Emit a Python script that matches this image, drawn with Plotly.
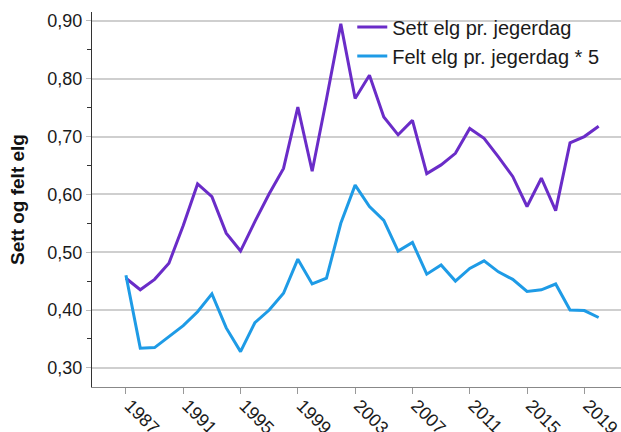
import plotly.graph_objects as go

years = list(range(1987, 2021))
sett = [0.455, 0.435, 0.453, 0.481, 0.546, 0.618, 0.596, 0.533, 0.502, 0.553, 0.601,
        0.645, 0.751, 0.640, 0.765, 0.895, 0.766, 0.806, 0.734, 0.703, 0.728, 0.636,
        0.651, 0.671, 0.714, 0.697, 0.665, 0.631, 0.579, 0.628, 0.572, 0.689, 0.700, 0.718]
felt5 = [0.460, 0.334, 0.335, 0.354, 0.373, 0.397, 0.428, 0.369, 0.328, 0.378, 0.400,
         0.429, 0.488, 0.445, 0.455, 0.550, 0.616, 0.579, 0.555, 0.502, 0.517, 0.462,
         0.478, 0.450, 0.472, 0.485, 0.466, 0.453, 0.432, 0.435, 0.445, 0.400, 0.399, 0.387]
tick_years = [1987, 1991, 1995, 1999, 2003, 2007, 2011, 2015, 2019]
y_ticks = [0.30, 0.40, 0.50, 0.60, 0.70, 0.80, 0.90]

fig = go.Figure()
fig.add_trace(go.Scatter(x=years, y=sett, mode="lines", name="Sett elg pr. jegerdag",
                         line=dict(color="#6a2cc8", width=3)))
fig.add_trace(go.Scatter(x=years, y=felt5, mode="lines", name="Felt elg pr. jegerdag * 5",
                         line=dict(color="#1e9be6", width=3)))

fig.update_layout(
    width=621, height=432,
    margin=dict(l=92, r=0, t=12, b=45, autoexpand=False),
    paper_bgcolor="white", plot_bgcolor="white",
    separators=", ",
    font=dict(family="Liberation Sans, Arial", color="#1a1a1a"),
    showlegend=True,
    legend=dict(x=0.492, y=1.012, xanchor="left", yanchor="top",
                bgcolor="rgba(0,0,0,0)", font=dict(size=20, color="#1a1a1a"),
                tracegroupgap=0),
    xaxis=dict(range=[1984.63, 2021.56], tickvals=tick_years, ticktext=[str(t) for t in tick_years],
               tickangle=45, ticks="outside", ticklen=6, tickcolor="#999999", automargin=False,
               ticklabelshift=4, ticklabelstandoff=-6, ticklabeloverflow="allow",
               showline=True, linecolor="#888888", linewidth=1, showgrid=False, zeroline=False,
               tickfont=dict(size=18, color="#1a1a1a")),
    yaxis=dict(range=[0.2668, 0.9155], tickvals=y_ticks, tickformat=".2f", automargin=False,
               ticks="outside", ticklen=5, tickcolor="#bbbbbb",
               showline=True, linecolor="#333333", linewidth=1,
               showgrid=True, gridcolor="#cfcfcf", gridwidth=1.5, zeroline=False,
               minor=dict(tickvals=[0.35, 0.45, 0.55, 0.65, 0.75, 0.85], ticks="outside",
                          ticklen=4, tickcolor="#333333", showgrid=False),
               tickfont=dict(size=18, color="#1a1a1a"),
               title=dict(text="<b>Sett og felt elg</b>", font=dict(size=19, color="#111111"),
                          standoff=17)),
)

fig.write_html("out.html", config={"displayModeBar": False},
               post_script="document.body.style.margin='0px';document.body.style.overflow='hidden';")
